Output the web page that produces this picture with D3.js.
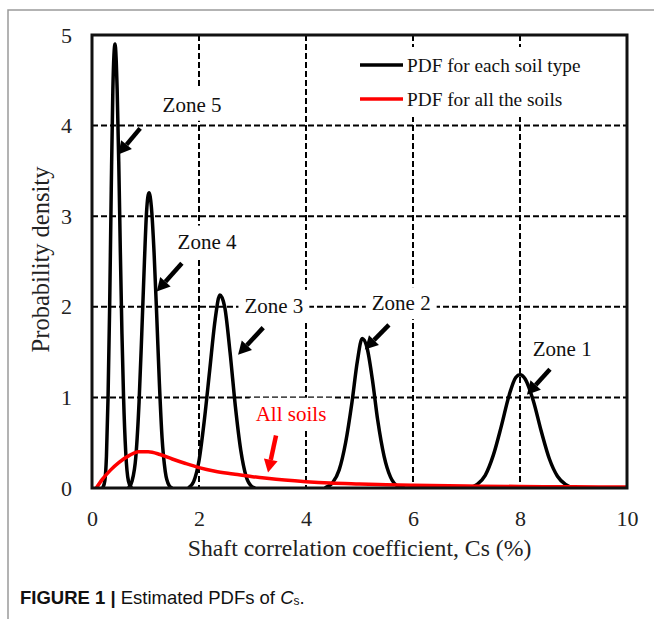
<!DOCTYPE html>
<html>
<head>
<meta charset="utf-8">
<script src="https://cdn.jsdelivr.net/npm/d3@7"></script>
<style>
  body { margin: 0; background: #fff; }
  svg { display: block; }
</style>
</head>
<body>
<svg id="chart" width="654" height="619"></svg>
<script>
// DATA SECTION

const xTicks = [0, 2, 4, 6, 8, 10];
const yTicks = [0, 1, 2, 3, 4, 5];
const xGrid = [2, 4, 6, 8];
const yGrid = [1, 2, 3, 4];

// PDF for each soil type: [Cs, density]
const zone5 = [[0.20,0],[0.24,0.08],[0.27,0.35],[0.30,1.0],[0.33,2.0],[0.36,3.3],[0.39,4.4],[0.43,4.9],
  [0.47,4.4],[0.50,3.6],[0.53,2.6],[0.56,1.7],[0.59,1.0],[0.63,0.4],[0.68,0.08],[0.74,0]];
const zone4 = [[0.68,0],[0.75,0.08],[0.82,0.35],[0.88,0.95],[0.93,1.7],[0.98,2.5],[1.02,3.05],[1.065,3.26],
  [1.11,3.1],[1.16,2.6],[1.21,1.9],[1.26,1.15],[1.31,0.55],[1.37,0.18],[1.44,0.03],[1.50,0]];
const zone3 = [[1.80,0],[1.90,0.07],[2.00,0.3],[2.10,0.75],[2.20,1.3],[2.30,1.85],[2.39,2.13],[2.48,2.0],
  [2.58,1.5],[2.68,0.9],[2.78,0.42],[2.88,0.13],[2.98,0.02],[3.05,0]];
const zone2 = [[4.35,0],[4.50,0.06],[4.62,0.2],[4.74,0.5],[4.86,0.95],[4.96,1.4],[5.05,1.65],[5.14,1.55],
  [5.24,1.2],[5.34,0.75],[5.46,0.35],[5.58,0.12],[5.72,0.02],[5.85,0]];
const zone1 = [[7.05,0],[7.20,0.04],[7.35,0.14],[7.50,0.36],[7.65,0.68],[7.80,1.03],[7.92,1.22],[8.00,1.25],
  [8.10,1.2],[8.25,0.96],[8.40,0.62],[8.55,0.32],[8.70,0.13],[8.85,0.04],[9.00,0]];

// PDF for all the soils
const allSoils = [[0.08,0],[0.2,0.1],[0.35,0.2],[0.5,0.28],[0.7,0.36],[0.87,0.40],[1.05,0.40],[1.27,0.37],
  [1.5,0.32],[1.75,0.27],[2.0,0.225],[2.3,0.185],[2.64,0.155],[3.0,0.125],[3.27,0.107],[3.6,0.088],
  [4.0,0.07],[4.45,0.055],[5.0,0.045],[5.5,0.037],[6.0,0.03],[7.0,0.022],[8.0,0.017],[9.0,0.013],[10.0,0.01]];

const zoneSeries = [zone5, zone4, zone3, zone2, zone1];

// annotations in data units: label centre, arrow tail, arrow head
const notes = [
  {text: "Zone 5", label: [1.87, 4.23], tail: [0.90, 3.97], head: [0.49, 3.68], color: "#000"},
  {text: "Zone 4", label: [2.15, 2.72], tail: [1.68, 2.48], head: [1.21, 2.17], color: "#000"},
  {text: "Zone 3", label: [3.40, 2.01], tail: [3.20, 1.77], head: [2.73, 1.47], color: "#000"},
  {text: "Zone 2", label: [5.78, 2.04], tail: [5.55, 1.80], head: [5.10, 1.53], color: "#000"},
  {text: "Zone 1", label: [8.79, 1.53], tail: [8.56, 1.31], head: [8.13, 1.03], color: "#000"},
  {text: "All soils", label: [3.72, 0.82], tail: [3.44, 0.58], head: [3.29, 0.17], color: "#ff0000"}
];

const legendItems = [
  {text: "PDF for each soil type", color: "#000"},
  {text: "PDF for all the soils", color: "#ff0000"}
];

// RENDER SECTION

const serif = "'Liberation Serif', 'Times New Roman', serif";
const svg = d3.select('#chart');

// outer page frame (grey)
svg.append('polyline')
  .attr('points', '8,619 8,10 654,10')
  .attr('fill', 'none')
  .attr('stroke', '#9a9a9a')
  .attr('stroke-width', 1.5);

const x = d3.scaleLinear().domain([0, 10]).range([92, 627]);
const y = d3.scaleLinear().domain([0, 5]).range([488, 35]);

// grid
const grid = svg.append('g').attr('class', 'grid');
grid.selectAll('line.vx')
  .data(xGrid)
  .enter().append('line')
  .attr('x1', d => x(d)).attr('x2', d => x(d))
  .attr('y1', y(5)).attr('y2', y(0))
  .attr('stroke', '#000')
  .attr('stroke-width', 2)
  .attr('stroke-dasharray', '6,3');
grid.selectAll('line.hy')
  .data(yGrid)
  .enter().append('line')
  .attr('x1', x(0)).attr('x2', x(10))
  .attr('y1', d => y(d)).attr('y2', d => y(d))
  .attr('stroke', '#000')
  .attr('stroke-width', 2)
  .attr('stroke-dasharray', '6,3');

// legend (white box hides the grid behind it)
const legend = svg.append('g').attr('class', 'legend');
legend.append('rect')
  .attr('x', 352).attr('y', 47)
  .attr('width', 270).attr('height', 70)
  .attr('fill', '#fff');
legendItems.forEach(function(d, i) {
  let ly = 65 + i * 34;
  legend.append('line')
    .attr('x1', 360).attr('x2', 403)
    .attr('y1', ly).attr('y2', ly)
    .attr('stroke', d.color)
    .attr('stroke-width', 3.5);
  legend.append('text')
    .attr('x', 407).attr('y', ly)
    .attr('dominant-baseline', 'central')
    .attr('font-family', serif)
    .attr('font-size', 19.3)
    .attr('fill', '#111')
    .text(d.text);
});

// annotation labels with white backgrounds
const noteG = svg.append('g').attr('class', 'notes');
notes.forEach(function(d) {
  let g = noteG.append('g');
  let bg = g.append('rect').attr('fill', '#fff');
  let t = g.append('text')
    .attr('x', x(d.label[0])).attr('y', y(d.label[1]))
    .attr('text-anchor', 'middle')
    .attr('dominant-baseline', 'central')
    .attr('font-family', serif)
    .attr('font-size', 21)
    .attr('fill', d.color === "#000" ? '#111' : d.color)
    .text(d.text);
  let bb = t.node().getBBox();
  bg.attr('x', bb.x - 6).attr('y', bb.y - 4)
    .attr('width', bb.width + 12).attr('height', bb.height + 8);
});

// curves
svg.append('clipPath').attr('id', 'plotclip')
  .append('rect')
  .attr('x', x(0)).attr('y', y(5))
  .attr('width', x(10) - x(0)).attr('height', y(0) - y(5));

const line = d3.line()
  .x(d => x(d[0]))
  .y(d => y(d[1]))
  .curve(d3.curveMonotoneX);

const curves = svg.append('g').attr('clip-path', 'url(#plotclip)');
curves.selectAll('path.zone')
  .data(zoneSeries)
  .enter().append('path')
  .attr('class', 'zone')
  .attr('d', line)
  .attr('fill', 'none')
  .attr('stroke', '#000')
  .attr('stroke-width', 3.5)
  .attr('stroke-linejoin', 'round');
curves.append('path')
  .datum(allSoils)
  .attr('d', line)
  .attr('fill', 'none')
  .attr('stroke', '#ff0000')
  .attr('stroke-width', 3.5);

// arrows
const arrows = svg.append('g').attr('class', 'arrows');
notes.forEach(function(d) {
  let x0 = x(d.tail[0]), y0 = y(d.tail[1]);
  let x1 = x(d.head[0]), y1 = y(d.head[1]);
  let ang = Math.atan2(y1 - y0, x1 - x0);
  let hl = 13, hw = 7;
  let bx = x1 - hl * Math.cos(ang), by = y1 - hl * Math.sin(ang);
  let px = -Math.sin(ang), py = Math.cos(ang);
  arrows.append('line')
    .attr('x1', x0).attr('y1', y0)
    .attr('x2', bx).attr('y2', by)
    .attr('stroke', d.color)
    .attr('stroke-width', 4.5);
  arrows.append('polygon')
    .attr('points', `${x1},${y1} ${bx + px * hw},${by + py * hw} ${bx - px * hw},${by - py * hw}`)
    .attr('fill', d.color);
});

// plot frame
svg.append('rect')
  .attr('x', x(0)).attr('y', y(5))
  .attr('width', x(10) - x(0)).attr('height', y(0) - y(5))
  .attr('fill', 'none')
  .attr('stroke', '#111')
  .attr('stroke-width', 3);

// axes
svg.append('g')
  .attr('transform', `translate(0,${y(0)})`)
  .call(d3.axisBottom(x).tickValues(xTicks).tickFormat(d3.format('d')).tickSize(0).tickPadding(22))
  .call(g => g.select('.domain').remove())
  .call(g => g.selectAll('.tick text')
    .attr('font-family', serif)
    .attr('font-size', 22)
    .attr('fill', '#222'));
svg.append('g')
  .attr('transform', `translate(${x(0)},0)`)
  .call(d3.axisLeft(y).tickValues(yTicks).tickFormat(d3.format('d')).tickSize(0).tickPadding(20))
  .call(g => g.select('.domain').remove())
  .call(g => g.selectAll('.tick text')
    .attr('font-family', serif)
    .attr('font-size', 22)
    .attr('fill', '#222'));

// axis titles
svg.append('text')
  .attr('x', (x(0) + x(10)) / 2).attr('y', 548)
  .attr('text-anchor', 'middle')
  .attr('dominant-baseline', 'central')
  .attr('font-family', serif)
  .attr('font-size', 23.7)
  .attr('fill', '#222')
  .text('Shaft correlation coefficient, Cs (%)');
svg.append('text')
  .attr('transform', `translate(40,${(y(0) + y(5)) / 2 - 2}) rotate(-90)`)
  .attr('text-anchor', 'middle')
  .attr('dominant-baseline', 'central')
  .attr('font-family', serif)
  .attr('font-size', 24.5)
  .attr('fill', '#222')
  .text('Probability density');

// caption
const cap = svg.append('text')
  .attr('x', 20).attr('y', 597)
  .attr('dominant-baseline', 'central')
  .attr('font-family', "'Liberation Sans', Arial, sans-serif")
  .attr('font-size', 18.5)
  .attr('fill', '#111');
cap.append('tspan').attr('font-weight', 'bold').text('FIGURE 1 | ');
cap.append('tspan').text('Estimated PDFs of ');
cap.append('tspan').attr('font-style', 'italic').text('C');
cap.append('tspan').attr('font-size', 12).attr('dy', 4).text('s');
cap.append('tspan').attr('dy', -4).text('.');
</script>
</body>
</html>
